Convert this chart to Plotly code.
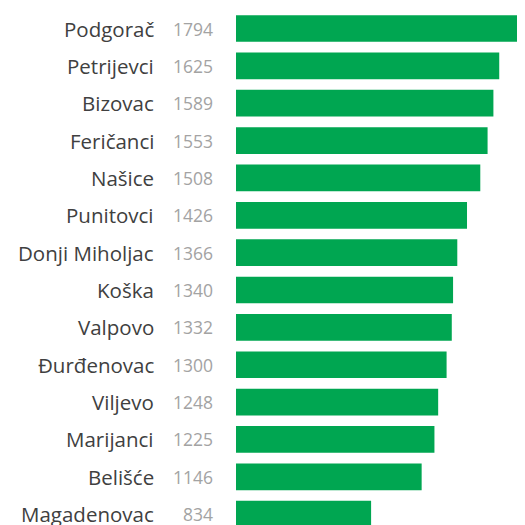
import plotly.graph_objects as go

names = ["Podgorač", "Petrijevci", "Bizovac", "Feričanci", "Našice", "Punitovci",
         "Donji Miholjac", "Koška", "Valpovo", "Đurđenovac", "Viljevo", "Marijanci",
         "Belišće", "Magadenovac"]
values = [1794, 1625, 1589, 1553, 1508, 1426, 1366, 1340, 1332, 1300, 1248, 1225, 1146, 834]

GREEN = "#00A651"
FONT = "Open Sans"

fig = go.Figure()
fig.add_trace(go.Bar(
    x=values, y=names, orientation="h",
    marker=dict(color=GREEN, line=dict(width=0)),
    hoverinfo="skip",
))

annotations = []
for n, v in zip(names, values):
    annotations.append(dict(
        x=0, xref="paper", y=n, yref="y", text=n, showarrow=False,
        xanchor="right", yanchor="middle", xshift=-80,
        font=dict(family=FONT, size=20.5, color="#404040"),
    ))
    annotations.append(dict(
        x=0, xref="paper", y=n, yref="y", text=str(v), showarrow=False,
        xanchor="right", yanchor="middle", xshift=-21,
        font=dict(family=FONT, size=17.5, color="#a3a3a3"),
    ))

fig.update_layout(
    width=517, height=517,
    margin=dict(l=228, r=0, t=0, b=0, autoexpand=False),
    paper_bgcolor="white", plot_bgcolor="white",
    bargap=0.285,
    showlegend=False,
    annotations=annotations,
    xaxis=dict(visible=False, range=[0, 1784], fixedrange=True),
    yaxis=dict(visible=False, range=[13.29, -0.549], fixedrange=True),
)

fig.write_html("out.html", config={"displayModeBar": False})
